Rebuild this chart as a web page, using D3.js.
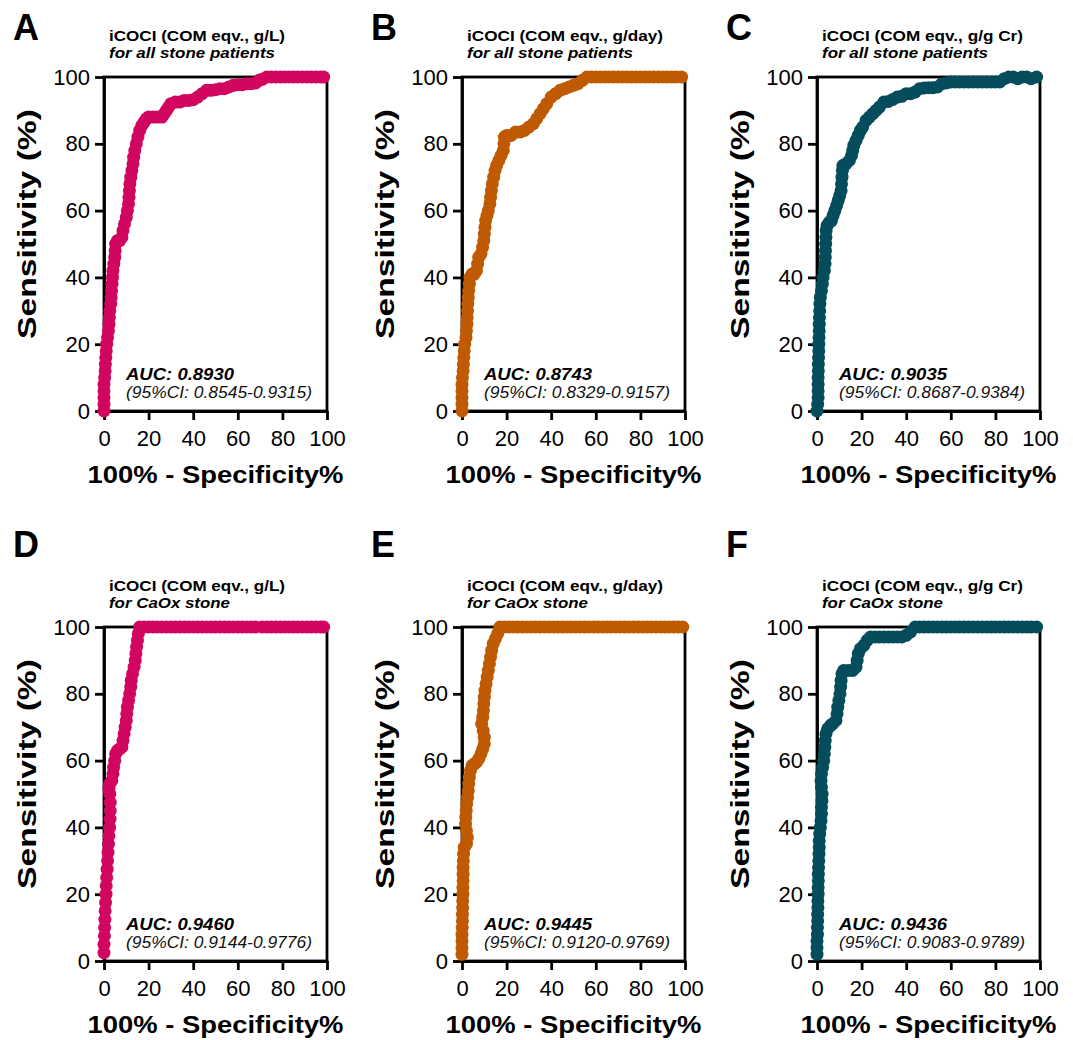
<!DOCTYPE html>
<html><head><meta charset="utf-8">
<script src="https://cdn.jsdelivr.net/npm/d3@7"></script>
<style>body{margin:0;background:#fff}svg{display:block}</style>
</head><body>
<svg id="chart" width="1073" height="1040"></svg>
<script>
// ROC points: [100% - Specificity%, Sensitivity%]
const rocA = [[0,0],[0,2],[0,4],[0,6],[0,8],[0.3,10],[0.5,12],[0.6,14],[0.8,16],[1,18],[1.2,20],[1.6,22],[2,24],[2.2,26],[2.4,28],[2.6,30],[3,32],[3.2,34],[3.4,36],[3.6,38],[3.8,40],[4,42],[4.4,44],[4.8,46],[5,48],[5.2,50],[6,51],[7,51],[8,52],[8.5,54],[9.2,56],[10,58],[10.5,60],[11,62],[11.2,64],[11.4,66],[11.6,68],[12,70],[12.5,72],[13,74],[13.3,76],[13.8,78],[14.5,80],[15.2,82],[16,84],[17,85.5],[18,86.5],[19,87.5],[20,88],[22,88],[24,88],[26,88],[27,89],[28,90],[29,91],[30,92],[32,92.5],[34,92.5],[36,93],[38,93],[40,93.2],[42,94],[44,95],[46,96],[48,96],[50,96.2],[52,96.5],[54,96.5],[56,97],[58,97.5],[60,97.7],[62,97.7],[64,98],[66,98],[68,98.2],[69.5,99],[71,99.3],[73,100],[75,100],[77,100],[79,100],[81,100],[83,100],[85,100],[87,100],[89,100],[91,100],[93,100],[95,100],[97,100],[98.5,100]];
const rocB = [[0,0],[0,2],[0,4],[0,6],[0,8],[0.2,10],[0.5,12],[0.6,14],[0.8,16],[1,18],[1.2,20],[1.8,22],[2,24],[2.2,26],[2.3,28],[2.5,30],[2.6,32],[2.8,34],[3,36],[3.3,38],[3.6,40],[4.5,41],[5.5,41],[6.5,42],[7,44],[7.5,46],[8.5,47],[9.2,49],[9.8,51],[10,53],[10.3,55],[10.6,57],[11.2,58.5],[11.8,60],[12.5,62],[12.8,64],[13.2,66],[13.6,68],[14.2,70],[14.8,72],[15.5,73.5],[16.5,75],[17.5,76.5],[18.5,78],[18.8,80],[19,82],[20,82.5],[22,82.5],[24,83.5],[26,83.5],[28,84],[30,85],[32,86],[33.5,87.5],[35,89],[36.5,90.5],[38,92],[40,94],[42,95],[44,96],[46,96.5],[48,97],[50,97.5],[52,98],[54,99],[56,100],[58,100],[60,100],[62,100],[64,100],[66,100],[68,100],[70,100],[72,100],[74,100],[76,100],[78,100],[80,100],[82,100],[84,100],[86,100],[88,100],[90,100],[92,100],[94,100],[96,100],[98.5,100]];
const rocC = [[0,0],[0.3,2],[0.5,4],[0.5,6],[0.5,8],[0.5,10],[0.6,12],[0.6,14],[0.7,16],[0.8,18],[0.8,20],[0.9,22],[1,24],[1,26],[1.1,28],[1.2,30],[1.3,32],[1.5,34],[2,36],[2.4,38],[2.7,40],[3.3,42],[3.6,44],[3.7,46],[3.8,48],[3.9,50],[4,52],[4.1,54],[4.5,55.5],[5.5,56.5],[6.5,57],[7.2,58.5],[8,60],[8.8,61.5],[9.5,63],[10.2,64.5],[10.8,66],[11,68],[11.2,70],[11.4,72],[11.6,73.5],[13,74],[14.5,75],[15.5,76.5],[16,78],[16.5,79.5],[17.5,81],[18.5,82.5],[19.5,84],[20.5,85],[22,87],[23.5,88],[25,89],[26.5,90],[28,91],[30,92.5],[32,92.7],[34,93.3],[36,94],[38,94.2],[40,95],[42,95],[44,95.5],[46,96.5],[48,96.7],[50,96.8],[52,96.8],[54,97],[56,98],[58,98.2],[60,98.5],[62,98.5],[64,98.5],[66,98.5],[68,98.5],[70,98.5],[72,98.5],[74,98.5],[76,98.5],[78,98.5],[80,98.5],[82,98.5],[84,99.5],[86,100],[88,100],[90,99.5],[92,100],[94,100],[96,99.5],[98.5,100]];
const rocD = [[0,2.5],[0,5],[0.2,7.5],[0.3,10],[0.4,12.5],[0.5,15],[0.7,17.5],[0.9,20],[1,22.5],[1.2,25],[1.4,27.5],[1.6,30],[1.8,32.5],[2,35],[2.2,37.5],[2.5,40],[2.7,42.5],[2.8,45],[2.8,47.5],[2.6,50],[2.2,51.5],[2.5,53],[3.5,54],[4,56],[4.3,58],[4.8,60],[5.2,62],[6,63],[7,63.5],[8,64],[8.5,66],[9,68],[9.5,70],[10,72],[10.2,74],[10.5,76],[11,78],[11.5,80],[12,82],[12.2,84],[12.8,86],[13.5,88],[14,90],[14.3,92],[14.6,94],[15,96],[15.4,98],[16,100],[18,100],[20,100],[22,100],[24,100],[26,100],[28,100],[30,100],[32,100],[34,100],[36,100],[38,100],[40,100],[42,100],[44,100],[46,100],[48,100],[50,100],[52,100],[54,100],[56,100],[58,100],[60,100],[62,100],[64,100],[66,100],[68,100],[71,100],[73,100],[75,100],[77,100],[79,100],[81,100],[83,100],[85,100],[87,100],[89,100],[91,100],[93,100],[95,100],[97,100],[98.5,100]];
const rocE = [[0,2],[0,4],[0,6],[0,8],[0.1,10],[0.2,12],[0.2,14],[0.3,16],[0.3,18],[0.4,20],[0.4,22],[0.5,24],[0.5,26],[0.5,28],[0.6,30],[0.7,32],[1,34],[2,35],[2.4,37],[2,39],[1.6,41],[1.7,43],[1.9,45],[2.1,47],[2.5,49],[2.8,51],[3,53],[3.3,55],[3.8,57],[4.5,58.5],[5.5,59],[6.5,59.5],[7.5,60.5],[8.5,62],[9.3,63.5],[10,65],[10,67],[9.5,69],[8.8,71],[9.3,73],[9.6,75],[9.8,77],[10,79],[10.3,81],[10.8,83],[11.3,85],[11.8,87],[12.3,89],[12.8,91],[13.3,93],[14,95],[15,96.5],[16,98],[17,100],[19,100],[21,100],[23,100],[25,100],[27,100],[29,100],[31,100],[33,100],[35,100],[37,100],[39,100],[41,100],[43,100],[45,100],[47,100],[49,100],[51,100],[53,100],[55,100],[57,100],[59,100],[61,100],[63,100],[65,100],[67,100],[69,100],[71,100],[73,100],[75,100],[77,100],[79,100],[81,100],[83,100],[85,100],[87,100],[89,100],[91,100],[93,100],[95,100],[97,100],[99,100]];
const rocF = [[0,2],[0,4],[0,6],[0.2,8],[0.2,10],[0.3,12],[0.3,14],[0.4,16],[0.4,18],[0.5,20],[0.5,22],[0.6,24],[0.6,26],[0.7,28],[0.8,30],[0.9,32],[1,34],[1,36],[1.2,38],[1.5,40],[1.8,42],[2,44],[2,46],[2.2,48],[2.3,50],[2,52],[1.8,54],[2,56],[2.5,58],[3,60],[3.3,62],[3.5,64],[3.7,66],[4,68],[4.8,69.5],[6,70.5],[7,71],[8.5,72],[9,74],[9.3,76],[9.8,78],[10.3,80],[10.6,82],[10.8,84],[11.2,86],[12,87],[14,87],[16,87],[17.5,88],[18,90],[18.5,92],[19.5,93.5],[21,94.5],[22.5,96],[24,97],[26,97],[28,97],[30,97],[32,97],[34,97],[36,97],[38,97],[40,97.5],[42,98.5],[44,100],[46,100],[48,100],[50,100],[52,100],[54,100],[56,100],[58,100],[60,100],[62,100],[64,100],[66,100],[68,100],[70,100],[72,100],[74,100],[76,100],[78,100],[80,100],[82,100],[84,100],[86,100],[88,100],[90,100],[92,100],[94,100],[96,100],[98.5,100]];

const panelLetters = ["A","B","C","D","E","F"];
const titles = ["iCOCI (COM eqv., g/L)","iCOCI (COM eqv., g/day)","iCOCI (COM eqv., g/g Cr)","iCOCI (COM eqv., g/L)","iCOCI (COM eqv., g/day)","iCOCI (COM eqv., g/g Cr)"];
const subtitles = ["for all stone patients","for all stone patients","for all stone patients","for CaOx stone","for CaOx stone","for CaOx stone"];
const aucLabels = ["AUC: 0.8930","AUC: 0.8743","AUC: 0.9035","AUC: 0.9460","AUC: 0.9445","AUC: 0.9436"];
const ciLabels = ["(95%CI: 0.8545-0.9315)","(95%CI: 0.8329-0.9157)","(95%CI: 0.8687-0.9384)","(95%CI: 0.9144-0.9776)","(95%CI: 0.9120-0.9769)","(95%CI: 0.9083-0.9789)"];
const xTicks = [0,20,40,60,80,100];
const yTicks = [0,20,40,60,80,100];
const xTitle = "100% - Specificity%";
const yTitle = "Sensitivity (%)";
const seriesColors = ["#D1065F","#BF5A02","#054C5C"];
const rocData = [rocA,rocB,rocC,rocD,rocE,rocF];

// layout
const FONT = '"Liberation Sans", Arial, Helvetica, sans-serif';
const colLeft = [104, 462, 817];
const rowTop = [77, 627];
const letterY = [40, 557];
const titleLen = [176, 196, 201, 176, 196, 201];
const subLen = [166, 166, 166, 121, 121, 121];
const W = 223, H = 334;

const svg = d3.select("#chart");
svg.append("rect").attr("width",1073).attr("height",1040).attr("fill","#fff");

rocData.forEach((pts, i) => {
  const col = i % 3, row = Math.floor(i / 3);
  const left = colLeft[col], top = rowTop[row];
  const color = seriesColors[col];
  const x = d3.scaleLinear().domain([0,100]).range([0,W]);
  const y = d3.scaleLinear().domain([0,100]).range([H,0]);

  // panel letter
  svg.append("text").attr("x", left - 91).attr("y", letterY[row])
    .attr("font-family", FONT).attr("font-weight","bold").attr("font-size",36)
    .attr("fill","#000").text(panelLetters[i]);

  const g = svg.append("g").attr("transform", `translate(${left},${top})`);

  // titles
  g.append("text").attr("x",5).attr("y",-36)
    .attr("font-family",FONT).attr("font-weight","bold").attr("font-size",15)
    .attr("textLength",titleLen[i]).attr("lengthAdjust","spacingAndGlyphs")
    .text(titles[i]);
  g.append("text").attr("x",5).attr("y",-19)
    .attr("font-family",FONT).attr("font-weight","bold").attr("font-style","italic").attr("font-size",15)
    .attr("textLength",subLen[i]).attr("lengthAdjust","spacingAndGlyphs")
    .text(subtitles[i]);

  // frame
  g.append("rect").attr("x",0).attr("y",0).attr("width",W).attr("height",H)
    .attr("fill","none").attr("stroke","#000").attr("stroke-width",2.8);

  // axes
  const ax = g.append("g").attr("transform",`translate(0,${H})`)
    .call(d3.axisBottom(x).tickValues(xTicks).tickSize(9).tickSizeOuter(0).tickPadding(10));
  const ay = g.append("g")
    .call(d3.axisLeft(y).tickValues(yTicks).tickSize(9).tickSizeOuter(0).tickPadding(5));
  [ax, ay].forEach(a => {
    a.select(".domain").attr("stroke","#000").attr("stroke-width",2.8);
    a.selectAll(".tick line").attr("stroke","#000").attr("stroke-width",2.8);
    a.selectAll(".tick text").attr("font-family",FONT).attr("font-size",22).attr("fill","#000");
  });

  // ROC curve
  const line = d3.line().x(d => x(d[0])).y(d => y(d[1]));
  g.append("path").datum(pts).attr("d", line)
    .attr("fill","none").attr("stroke",color).attr("stroke-width",5).attr("stroke-linejoin","round");
  g.selectAll("circle.pt").data(pts).enter().append("circle").attr("class","pt")
    .attr("cx", d => x(d[0])).attr("cy", d => y(d[1])).attr("r", 6.5).attr("fill", color);

  // AUC text
  g.append("text").attr("x",22).attr("y",H-31)
    .attr("font-family",FONT).attr("font-weight","bold").attr("font-style","italic").attr("font-size",17)
    .attr("textLength",108).attr("lengthAdjust","spacingAndGlyphs")
    .text(aucLabels[i]);
  g.append("text").attr("x",22).attr("y",H-13)
    .attr("font-family",FONT).attr("font-style","italic").attr("font-size",16)
    .attr("textLength",186).attr("lengthAdjust","spacingAndGlyphs").attr("fill","#111")
    .text(ciLabels[i]);

  // axis titles
  g.append("text").attr("x", W/2).attr("y", H + 72).attr("text-anchor","middle")
    .attr("font-family",FONT).attr("font-weight","bold").attr("font-size",24)
    .attr("textLength",256).attr("lengthAdjust","spacingAndGlyphs")
    .text(xTitle);
  g.append("text").attr("transform",`translate(-68,${H/2 - 20}) rotate(-90)`).attr("text-anchor","middle")
    .attr("font-family",FONT).attr("font-weight","bold").attr("font-size",26)
    .attr("textLength",230).attr("lengthAdjust","spacingAndGlyphs")
    .text(yTitle);
});
</script>
</body></html>
